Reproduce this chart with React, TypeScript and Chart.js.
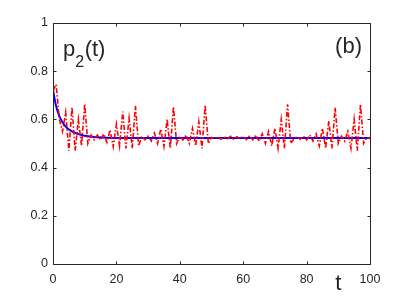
import React, { useEffect, useRef } from "react";
import { Chart, registerables } from "chart.js";

Chart.register(...registerables);

// time grid for the oscillating (red) series
const tRed = [
  0, 1, 2, 3, 4, 5, 6, 7, 8, 9, 10, 11, 12, 13, 14, 15, 16, 17, 18, 19, 20,
  21, 22, 23, 24, 25, 26, 27, 28, 29, 30, 31, 32, 33, 34, 35, 36, 37, 38, 39, 40,
  41, 42, 43, 44, 45, 46, 47, 48, 49, 50, 51, 52, 53, 54, 55, 56, 57, 58, 59, 60,
  61, 62, 63, 64, 65, 66, 67, 68, 69, 70, 71, 72, 73, 74, 75, 76, 77, 78, 79, 80,
  81, 82, 83, 84, 85, 86, 87, 88, 89, 90, 91, 92, 93, 94, 95, 96, 97, 98, 99, 100,
];
const pRed = [
  0.72, 0.745, 0.6, 0.55, 0.63, 0.47, 0.65, 0.47, 0.6, 0.49, 0.665,
  0.5, 0.535, 0.515, 0.535, 0.515, 0.54, 0.505, 0.556, 0.487, 0.58,
  0.49, 0.632, 0.48, 0.605, 0.48, 0.656, 0.49, 0.53, 0.515, 0.53,
  0.51, 0.543, 0.5, 0.56, 0.488, 0.6, 0.48, 0.653, 0.5, 0.53,
  0.515, 0.535, 0.5, 0.563, 0.49, 0.59, 0.48, 0.66, 0.5, 0.525,
  0.52, 0.528, 0.518, 0.527, 0.52, 0.53, 0.518, 0.528, 0.52, 0.53,
  0.516, 0.532, 0.515, 0.535, 0.51, 0.54, 0.5, 0.55, 0.49, 0.563,
  0.48, 0.6, 0.48, 0.663, 0.5, 0.52, 0.528, 0.518, 0.53, 0.515,
  0.535, 0.51, 0.54, 0.49, 0.563, 0.48, 0.593, 0.48, 0.649, 0.5,
  0.53, 0.51, 0.55, 0.48, 0.6, 0.47, 0.663, 0.5, 0.525, 0.52,
];

// smooth decaying (blue) series
const tBlue = [0, 0.5, 1, 1.5, 2, 2.5, 3, 4, 5, 6, 7, 8, 9, 10, 12, 14, 17, 20, 30, 100];
const pBlue = [
  0.725, 0.685, 0.655, 0.632, 0.614, 0.6, 0.588, 0.57, 0.558, 0.55, 0.544, 0.539,
  0.535, 0.532, 0.528, 0.526, 0.524, 0.523, 0.523, 0.523,
];

const xTicks = [0, 20, 40, 60, 80, 100];
const yTicks = [0, 0.2, 0.4, 0.6, 0.8, 1];

const AXIS = "#262626";
const FONT = "'Liberation Sans', Arial, sans-serif";

const framePlugin = {
  id: "frame",
  afterDraw(chart: any) {
    const { ctx, chartArea, scales } = chart;
    const { left, right, top, bottom } = chartArea;
    ctx.save();
    ctx.strokeStyle = AXIS;
    ctx.lineWidth = 1;
    const L = Math.round(left) + 0.5;
    const R = Math.round(right) + 0.5;
    const T = Math.round(top) + 0.5;
    const B = Math.round(bottom) + 0.5;
    ctx.beginPath();
    ctx.rect(L, T, R - L, B - T);
    const tl = 3;
    xTicks.forEach((v) => {
      const x = Math.round(scales.x.getPixelForValue(v)) + 0.5;
      ctx.moveTo(x, B);
      ctx.lineTo(x, B - tl);
      ctx.moveTo(x, T);
      ctx.lineTo(x, T + tl);
    });
    yTicks.forEach((v) => {
      const y = Math.round(scales.y.getPixelForValue(v)) + 0.5;
      ctx.moveTo(L, y);
      ctx.lineTo(L + tl, y);
      ctx.moveTo(R, y);
      ctx.lineTo(R - tl, y);
    });
    ctx.stroke();

    ctx.fillStyle = AXIS;
    ctx.textBaseline = "alphabetic";
    ctx.textAlign = "left";
    // p_2(t)
    ctx.font = `22px ${FONT}`;
    ctx.fillText("p", 63, 56);
    const pw = ctx.measureText("p").width;
    ctx.font = `16px ${FONT}`;
    ctx.fillText("2", 63 + pw, 67);
    const sw = ctx.measureText("2").width;
    ctx.font = `22px ${FONT}`;
    ctx.fillText("(t)", 63 + pw + sw + 0.5, 56);
    // (b)
    ctx.textAlign = "right";
    ctx.fillText("(b)", 362, 53);
    // t label
    ctx.textAlign = "center";
    ctx.fillText("t", scales.x.getPixelForValue(90), 290);
    ctx.restore();
  },
};

export default function App() {
  const ref = useRef<HTMLCanvasElement>(null);
  useEffect(() => {
    const canvas = ref.current;
    if (!canvas) return;
    const chart = new Chart(canvas, {
      type: "line",
      data: {
        datasets: [
          {
            label: "oscillating",
            data: tRed.map((t, i) => ({ x: t, y: pRed[i] })),
            borderColor: "#ff0000",
            borderWidth: 1.6,
            borderDash: [5, 2, 1.5, 2],
            pointRadius: 0,
            tension: 0,
            fill: false,
          },
          {
            label: "decay",
            data: tBlue.map((t, i) => ({ x: t, y: pBlue[i] })),
            borderColor: "#0000ff",
            borderWidth: 2,
            pointRadius: 0,
            tension: 0.3,
            fill: false,
          },
        ],
      },
      options: {
        animation: false,
        responsive: false,
        maintainAspectRatio: false,
        layout: { padding: { left: 0, right: 39, top: 23, bottom: 0 } },
        plugins: { legend: { display: false }, tooltip: { enabled: false } },
        scales: {
          x: {
            type: "linear",
            min: 0,
            max: 100,
            afterBuildTicks: (s: any) => {
              s.ticks = xTicks.map((v) => ({ value: v }));
            },
            afterFit: (s: any) => {
              s.height = 34;
            },
            grid: { display: false, drawTicks: false },
            border: { display: false },
            ticks: {
              color: AXIS,
              padding: 8,
              maxRotation: 0,
              callback: (v: any) => String(v),
              font: { family: FONT, size: 12.5 },
            },
          },
          y: {
            type: "linear",
            min: 0,
            max: 1,
            afterBuildTicks: (s: any) => {
              s.ticks = yTicks.map((v) => ({ value: v }));
            },
            afterFit: (s: any) => {
              s.width = 53;
            },
            grid: { display: false, drawTicks: false },
            border: { display: false },
            ticks: {
              color: AXIS,
              padding: 5,
              callback: (v: any) => String(v),
              font: { family: FONT, size: 12.5 },
            },
          },
        },
      },
      plugins: [framePlugin],
    });
    return () => chart.destroy();
  }, []);
  return (
    <div style={{ position: "fixed", left: 0, top: 0, width: 409, height: 298, background: "#fff" }}>
      <canvas ref={ref} width={409} height={298} style={{ display: "block" }} />
    </div>
  );
}
